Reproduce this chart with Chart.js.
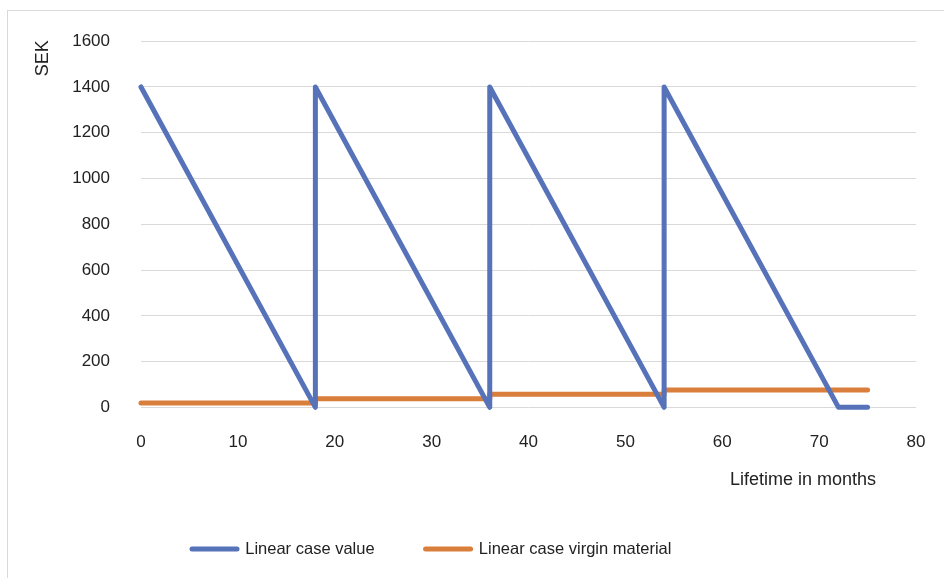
<!DOCTYPE html>
<html>
<head>
<meta charset="utf-8">
<script src="https://cdn.jsdelivr.net/npm/chart.js@4.4.1/dist/chart.umd.min.js"></script>
<style>
    html, body { margin: 0; padding: 0; background: #fff; overflow: hidden; }
    .frame { position: absolute; left: 7px; top: 10px; width: 1000px; height: 700px; border: 1px solid #d9d9d9; }
    .wrap { position: absolute; left: 0; top: 0; width: 944px; height: 578px; }
</style>
</head>
<body>
<div class="frame"></div>
<div class="wrap"><canvas id="chart"></canvas></div>
<script>
// values
const valueMonths = [0, 18, 18, 36, 36, 54, 54, 72, 75];
const valueSek = [1400, 0, 1400, 0, 1400, 0, 1400, 0, 0];
const virginMonths = [0, 18, 18, 36, 36, 54, 54, 75];
const virginSek = [19, 19, 38, 38, 57, 57, 76, 76];
const seriesNames = ['Linear case value', 'Linear case virgin material'];
const seriesColors = ['#5672B9', '#DA7E3C'];
const xTitle = 'Lifetime in months';
const yTitle = 'SEK';

const font = 'Liberation Sans, Arial, sans-serif';
const textColor = '#222';

const toPoints = (xs, ys) => xs.map((x, i) => ({ x: x, y: ys[i] }));

// axis titles drawn where excel put them (y on top, x on the right)
const axisTitles = {
    id: 'axisTitles',
    afterDraw(chart) {
        const { ctx, chartArea } = chart;
        ctx.save();
        ctx.fillStyle = textColor;
        ctx.font = '18px ' + font;
        ctx.textBaseline = 'middle';
        ctx.textAlign = 'center';
        ctx.fillText(xTitle, chartArea.right - 113, chartArea.bottom + 73);
        ctx.translate(chartArea.left - 98, chartArea.top + 17);
        ctx.rotate(-Math.PI / 2);
        ctx.fillText(yTitle, 0, 0);
        ctx.restore();
    }
};

const lineStyle = (i, pts) => ({
    label: seriesNames[i],
    data: pts,
    borderColor: seriesColors[i],
    backgroundColor: seriesColors[i],
    borderWidth: 5,
    borderCapStyle: 'round',
    borderJoinStyle: 'round',
    pointRadius: 0,
    tension: 0,
    clip: false
});

new Chart(document.getElementById('chart'), {
    type: 'line',
    data: {
        datasets: [
            lineStyle(0, toPoints(valueMonths, valueSek)),
            lineStyle(1, toPoints(virginMonths, virginSek))
        ]
    },
    options: {
        responsive: true,
        maintainAspectRatio: false,
        animation: false,
        layout: { padding: { left: 0, right: 28, top: 37, bottom: 10.75 } },
        plugins: {
            tooltip: { enabled: false },
            legend: {
                position: 'bottom',
                align: 'start',
                fullSize: false,
                labels: {
                    usePointStyle: true,
                    pointStyleWidth: 45,
                    padding: 51,
                    color: textColor,
                    font: { family: font, size: 16.5 },
                    generateLabels(chart) {
                        const items = Chart.defaults.plugins.legend.labels.generateLabels(chart);
                        items.forEach(it => {
                            it.pointStyle = 'line';
                            it.lineWidth = 5;
                            it.lineCap = 'round';
                            it.strokeStyle = seriesColors[it.datasetIndex];
                            it.fillStyle = seriesColors[it.datasetIndex];
                        });
                        return items;
                    }
                }
            }
        },
        scales: {
            x: {
                type: 'linear',
                min: 0,
                max: 80,
                // invisible tick length keeps the labels low without widening the side padding
                ticks: { stepSize: 10, padding: 1, color: textColor, font: { family: font, size: 17 }, callback: v => String(v) },
                grid: { display: false, drawTicks: true, tickLength: 24 },
                border: { display: false },
                afterFit(scale) { scale.height += 36; }
            },
            y: {
                min: 0,
                max: 1600,
                ticks: { stepSize: 200, padding: 31, color: textColor, font: { family: font, size: 17 }, callback: v => String(v) },
                grid: { color: '#d9d9d9', lineWidth: 1, drawTicks: false },
                border: { display: false },
                afterFit(scale) { scale.width = 141; }
            }
        }
    },
    plugins: [axisTitles]
});
</script>
</body>
</html>
